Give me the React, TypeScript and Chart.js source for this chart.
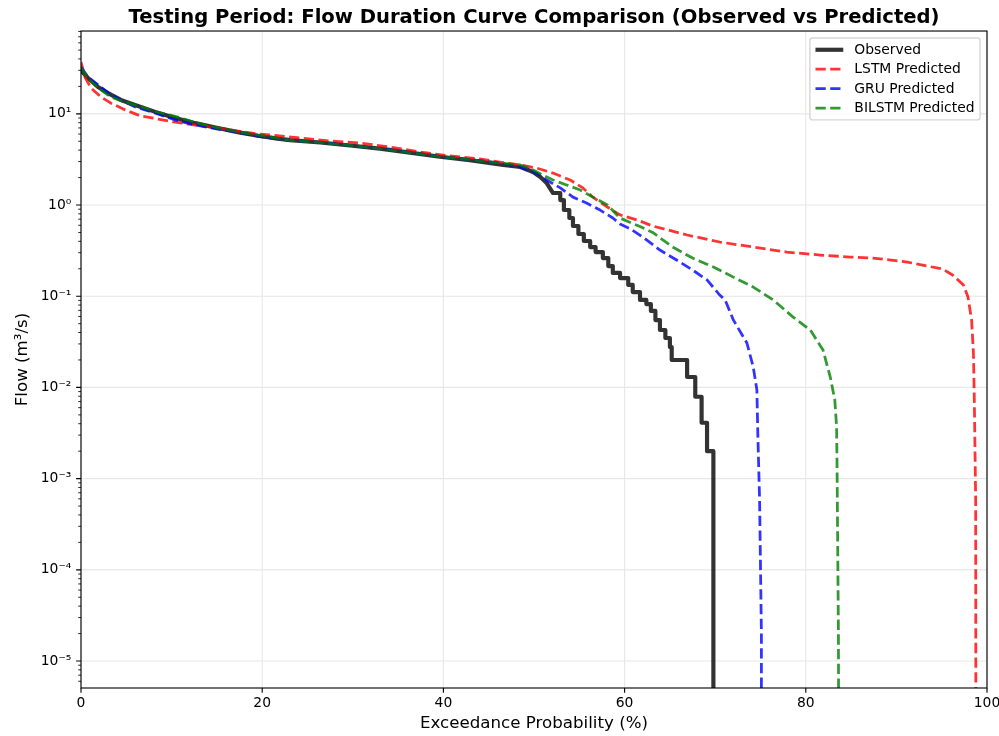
import React, { useEffect, useRef } from 'react';
import { Chart, registerables } from 'chart.js';

Chart.register(...registerables);

const FONT = 'DejaVu Sans';
const PT = 100 / 72;

const TITLE = 'Testing Period: Flow Duration Curve Comparison (Observed vs Predicted)';
const X_LABEL = 'Exceedance Probability (%)';
const Y_LABEL = 'Flow (m³/s)';

const X_TICKS = [0, 20, 40, 60, 80, 100];
const Y_EXPONENTS = [-5, -4, -3, -2, -1, 0, 1];
const Y_MIN = 5.06e-6;
const Y_MAX = 80.9;

// zero flow (plotted below the log axis floor, so it is clipped like in the original)
const ZERO_FLOW = 1e-9;

// Observed: smooth upper part
const OBS_X = [0, 0.77, 1.88, 2.98, 4.4, 5.96, 8.2, 10.4, 12.6, 15.1, 17.3, 19.5, 21.7, 23.1, 26.4, 29.7, 33.0, 36.3, 39.6, 42.9, 46.6, 48.5, 49.9, 50.7, 51.4];
const OBS_Y = [30, 24.7, 19.7, 16.9, 14.2, 12.5, 10.5, 9.0, 7.9, 7.0, 6.3, 5.75, 5.35, 5.15, 4.85, 4.5, 4.15, 3.75, 3.38, 3.11, 2.75, 2.61, 2.30, 2.03, 1.74];
// Observed: stair part (plateau boundaries and plateau values)
const OBS_STEP_X = [52.1, 52.9, 53.3, 53.9, 54.3, 54.9, 55.5, 56.2, 56.8, 57.6, 58.2, 58.7, 59.5, 60.4, 60.9, 61.7, 62.4, 62.9, 63.4, 63.9, 64.5, 65.0, 65.2, 66.9, 67.8, 68.5, 69.1, 69.8];
const OBS_STEP_Y = [1.354, 1.134, 0.882, 0.72, 0.589, 0.481, 0.403, 0.346, 0.305, 0.262, 0.214, 0.18, 0.158, 0.133, 0.111, 0.091, 0.082, 0.069, 0.0548, 0.0426, 0.0348, 0.0277, 0.020, 0.013, 0.0079, 0.0041, 0.0020];

const LSTM_X = [0, 0.44, 1.1, 2.2, 3.3, 4.9, 6.6, 8.5, 10.4, 12.6, 15.1, 17.3, 19.5, 20.9, 24.2, 27.5, 30.8, 34.1, 37.4, 40.7, 44.0, 46.2, 48.5, 50.3, 52.1, 54.0, 55.4, 56.5, 58.1, 59.5, 61.4, 63.1, 66.9, 70.5, 74.2, 77.9, 81.6, 84.9, 87.4, 91.2, 93.4, 95.1, 96.2, 97.4, 97.9, 98.3, 98.5, 98.6, 98.75, 98.8];
const LSTM_Y = [37, 25.3, 19.2, 15.3, 13.1, 11.0, 9.46, 8.77, 8.13, 7.54, 7.0, 6.48, 6.0, 5.86, 5.43, 5.03, 4.78, 4.33, 3.81, 3.45, 3.2, 2.96, 2.75, 2.54, 2.24, 1.88, 1.54, 1.22, 0.95, 0.78, 0.685, 0.589, 0.469, 0.393, 0.346, 0.305, 0.283, 0.269, 0.262, 0.237, 0.214, 0.199, 0.171, 0.133, 0.098, 0.055, 0.024, 0.0073, 5.9e-4, ZERO_FLOW];

const GRU_X = [0, 0.77, 1.9, 3.3, 4.4, 6.0, 8.2, 10.4, 12.6, 15.1, 17.3, 19.5, 23.1, 26.4, 29.7, 33.0, 36.3, 39.6, 42.9, 46.2, 48.5, 50.3, 51.4, 52.9, 54.3, 55.8, 57.3, 58.7, 59.5, 60.6, 62.0, 63.9, 66.1, 67.5, 69.1, 70.5, 71.1, 72.0, 73.5, 74.2, 74.6, 74.7, 74.9, 75.1, 75.1];
const GRU_Y = [32.6, 25.3, 20.7, 16.0, 14.2, 11.9, 10.2, 8.55, 7.54, 6.81, 6.3, 5.7, 5.1, 4.85, 4.5, 4.15, 3.78, 3.4, 3.15, 2.89, 2.61, 2.24, 1.88, 1.54, 1.22, 1.05, 0.88, 0.72, 0.62, 0.55, 0.446, 0.321, 0.237, 0.194, 0.151, 0.103, 0.091, 0.055, 0.0307, 0.0167, 0.0094, 0.0032, 5.8e-4, 2e-5, ZERO_FLOW];

const BILSTM_X = [0, 0.77, 1.9, 3.3, 4.9, 6.6, 8.5, 10.7, 12.9, 15.1, 18.1, 20.3, 23.1, 26.4, 29.7, 33.0, 36.3, 39.6, 42.9, 46.2, 48.5, 49.9, 51.0, 52.1, 53.6, 55.1, 56.5, 58.1, 59.5, 61.7, 63.1, 65.3, 67.5, 69.8, 72.0, 74.2, 76.4, 78.6, 80.5, 81.9, 82.7, 83.2, 83.4, 83.45, 83.6, 83.7];
const BILSTM_Y = [31.9, 24.7, 19.2, 15.3, 13.4, 11.9, 10.4, 9.2, 7.9, 7.0, 6.16, 5.7, 5.1, 4.85, 4.5, 4.15, 3.76, 3.4, 3.15, 2.89, 2.75, 2.42, 2.13, 1.88, 1.66, 1.46, 1.22, 1.0, 0.72, 0.58, 0.5, 0.346, 0.262, 0.209, 0.162, 0.126, 0.091, 0.059, 0.0426, 0.0257, 0.013, 0.0073, 0.0037, 0.00134, 2e-5, ZERO_FLOW];

const SUP: Record<string, string> = { '-': '⁻', '0': '⁰', '1': '¹', '2': '²', '3': '³', '4': '⁴', '5': '⁵', '6': '⁶', '7': '⁷', '8': '⁸', '9': '⁹' };
const sup = (n: number) => String(n).split('').map((c) => SUP[c] || c).join('');

const zip = (xs: number[], ys: number[]) => xs.map((x, i) => ({ x, y: ys[i] }));

function observedPoints() {
  const pts = zip(OBS_X, OBS_Y);
  for (let i = 0; i < OBS_STEP_Y.length; i++) {
    pts.push({ x: OBS_STEP_X[i], y: OBS_STEP_Y[i] });
    pts.push({ x: OBS_STEP_X[i + 1], y: OBS_STEP_Y[i] });
  }
  pts.push({ x: OBS_STEP_X[OBS_STEP_X.length - 1], y: ZERO_FLOW });
  return pts;
}

const mplPlugin = {
  id: 'mplLook',
  beforeDatasetsDraw(chart: any) {
    const { ctx, chartArea: a } = chart;
    const xs = chart.scales.x;
    const ys = chart.scales.y;
    ctx.save();
    ctx.strokeStyle = 'rgba(176,176,176,0.3)';
    ctx.lineWidth = 0.8 * PT;
    ctx.beginPath();
    for (const v of X_TICKS) {
      const px = xs.getPixelForValue(v);
      ctx.moveTo(px, a.top);
      ctx.lineTo(px, a.bottom);
    }
    for (const e of Y_EXPONENTS) {
      const py = ys.getPixelForValue(Math.pow(10, e));
      ctx.moveTo(a.left, py);
      ctx.lineTo(a.right, py);
    }
    ctx.stroke();
    ctx.restore();
  },
  afterDatasetsDraw(chart: any) {
    const { ctx, chartArea: a } = chart;
    const xs = chart.scales.x;
    const ys = chart.scales.y;
    ctx.save();
    // spines
    ctx.strokeStyle = '#000';
    ctx.lineWidth = 0.8 * PT;
    ctx.strokeRect(a.left, a.top, a.right - a.left, a.bottom - a.top);
    // major ticks
    ctx.beginPath();
    for (const v of X_TICKS) {
      const px = xs.getPixelForValue(v);
      ctx.moveTo(px, a.bottom);
      ctx.lineTo(px, a.bottom + 3.5 * PT);
    }
    for (const e of Y_EXPONENTS) {
      const py = ys.getPixelForValue(Math.pow(10, e));
      ctx.moveTo(a.left, py);
      ctx.lineTo(a.left - 3.5 * PT, py);
    }
    ctx.stroke();
    // minor ticks (log)
    ctx.lineWidth = 0.6 * PT;
    ctx.beginPath();
    for (let e = -6; e <= 1; e++) {
      for (let m = 2; m <= 9; m++) {
        const v = m * Math.pow(10, e);
        if (v < Y_MIN || v > Y_MAX) continue;
        const py = ys.getPixelForValue(v);
        ctx.moveTo(a.left, py);
        ctx.lineTo(a.left - 2 * PT, py);
      }
    }
    ctx.stroke();

    // legend (upper right)
    const fs = 10 * PT;
    ctx.font = `${fs}px "${FONT}"`;
    const ds = chart.data.datasets;
    const maxW = Math.max(...ds.map((d: any) => ctx.measureText(d.label).width));
    const pad = 0.4 * fs;
    const handleLen = 2 * fs;
    const handlePad = 0.8 * fs;
    const spacing = 0.5 * fs;
    const rowH = 0.9 * fs;
    const w = 2 * pad + handleLen + handlePad + maxW;
    const h = 2 * pad + ds.length * rowH + (ds.length - 1) * spacing;
    const right = a.right - 0.5 * fs;
    const top = a.top + 0.5 * fs;
    const left = right - w;
    ctx.beginPath();
    ctx.roundRect(left, top, w, h, 0.2 * fs);
    ctx.fillStyle = 'rgba(255,255,255,0.8)';
    ctx.fill();
    ctx.strokeStyle = 'rgba(204,204,204,0.8)';
    ctx.lineWidth = 1 * PT;
    ctx.stroke();
    ds.forEach((d: any, i: number) => {
      const cy = top + pad + rowH / 2 + i * (rowH + spacing);
      ctx.save();
      ctx.beginPath();
      ctx.strokeStyle = d.borderColor;
      ctx.lineWidth = d.borderWidth;
      ctx.setLineDash(d.borderDash || []);
      ctx.lineCap = 'butt';
      ctx.moveTo(left + pad, cy);
      ctx.lineTo(left + pad + handleLen, cy);
      ctx.stroke();
      ctx.restore();
      ctx.fillStyle = '#000';
      ctx.textBaseline = 'middle';
      ctx.textAlign = 'left';
      ctx.fillText(d.label, left + pad + handleLen + handlePad, cy + 0.5);
    });
    ctx.restore();
  },
};

export default function App() {
  const ref = useRef<HTMLCanvasElement | null>(null);

  useEffect(() => {
    document.body.style.margin = '0';
    const canvas = ref.current;
    if (!canvas) return;
    const dash = [3.7 * 2 * PT, 1.6 * 2 * PT];
    const chart = new Chart(canvas, {
      type: 'line',
      data: {
        datasets: [
          { label: 'Observed', data: observedPoints(), borderColor: 'rgba(0,0,0,0.8)', borderWidth: 3 * PT, order: 3 },
          { label: 'LSTM Predicted', data: zip(LSTM_X, LSTM_Y), borderColor: 'rgba(255,0,0,0.8)', borderWidth: 2 * PT, borderDash: dash, order: 2 },
          { label: 'GRU Predicted', data: zip(GRU_X, GRU_Y), borderColor: 'rgba(0,0,255,0.8)', borderWidth: 2 * PT, borderDash: dash, order: 1 },
          { label: 'BILSTM Predicted', data: zip(BILSTM_X, BILSTM_Y), borderColor: 'rgba(0,128,0,0.8)', borderWidth: 2 * PT, borderDash: dash, order: 0 },
        ] as any,
      },
      options: {
        animation: false,
        responsive: false,
        devicePixelRatio: 1,
        events: [],
        datasets: { line: { clip: 0 } as any },
        elements: {
          point: { radius: 0 },
          line: { tension: 0, borderJoinStyle: 'round', borderCapStyle: 'butt', fill: false },
        },
        layout: { padding: { left: 0, right: 12, top: 0, bottom: 0 } },
        plugins: {
          legend: { display: false },
          tooltip: { enabled: false },
          title: {
            display: true,
            fullSize: false,
            text: TITLE,
            color: '#000',
            font: { family: FONT, size: 19.6, weight: 'bold' },
            padding: { top: 6.6, bottom: 0.9 },
          },
        },
        scales: {
          x: {
            type: 'linear',
            min: 0,
            max: 100,
            afterBuildTicks: (s: any) => {
              s.ticks = X_TICKS.map((v) => ({ value: v }));
            },
            ticks: {
              autoSkip: false,
              maxRotation: 0,
              color: '#000',
              padding: 7.2,
              font: { family: FONT, size: 10 * PT },
              callback: (v: any) => String(v),
            },
            grid: { display: false, drawTicks: false },
            border: { display: false },
            title: {
              display: true,
              text: X_LABEL,
              color: '#000',
              font: { family: FONT, size: 12 * PT },
              padding: { top: 2, bottom: 2 },
            },
            afterFit: (s: any) => {
              s.height = 48;
              s.paddingLeft = 0;
              s.paddingRight = 0;
            },
          },
          y: {
            type: 'logarithmic',
            min: Y_MIN,
            max: Y_MAX,
            afterBuildTicks: (s: any) => {
              s.ticks = Y_EXPONENTS.map((e) => ({ value: Math.pow(10, e) }));
            },
            ticks: {
              autoSkip: false,
              color: '#000',
              padding: 9.7,
              font: { family: FONT, size: 10 * PT },
              callback: (v: any) => '10' + sup(Math.round(Math.log10(Number(v)))),
            },
            grid: { display: false, drawTicks: false },
            border: { display: false },
            title: {
              display: true,
              text: Y_LABEL,
              color: '#000',
              font: { family: FONT, size: 12 * PT },
              padding: { top: 12.5, bottom: 12.5 },
            },
            afterFit: (s: any) => {
              s.width = 81;
              s.paddingTop = 0;
              s.paddingBottom = 0;
            },
          },
        },
      } as any,
      plugins: [mplPlugin],
    });
    return () => chart.destroy();
  }, []);

  return <canvas ref={ref} width={999} height={736} style={{ display: 'block' }} />;
}
